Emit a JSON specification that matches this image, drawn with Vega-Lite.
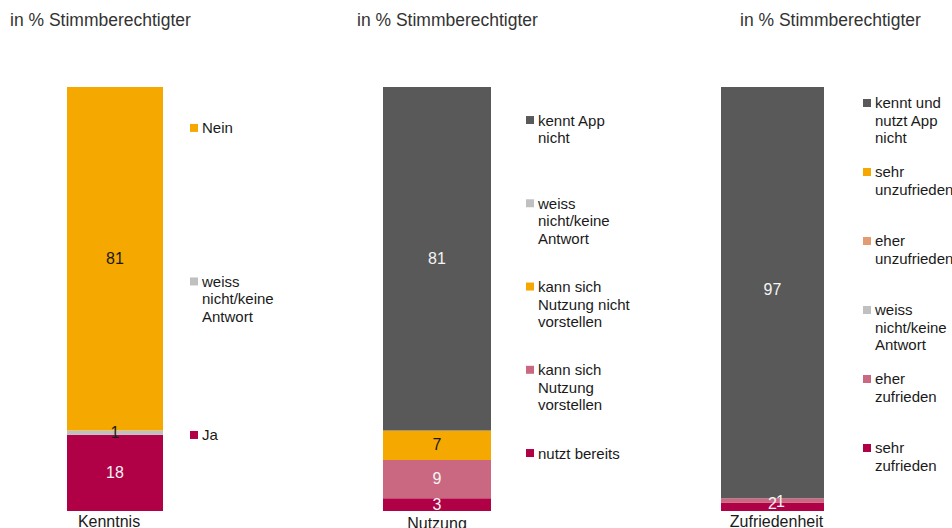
{
  "$schema": "https://vega.github.io/schema/vega-lite/v6.json",
  "padding": {"left": 10, "top": 11, "right": 0, "bottom": 0},
  "config": {"view": {"stroke": null}, "font": "Liberation Sans"},
  "spacing": 0,
  "bounds": "flush",
  "resolve": {"scale": {"x": "independent", "y": "independent"}},
  "datasets": {
    "kenntnis": [
      {"q": "Kenntnis", "cat": "Ja", "lab": "Ja", "rank": 1, "value": 18},
      {"q": "Kenntnis", "cat": "weiss nicht/keine Antwort", "lab": "weiss\nnicht/keine\nAntwort", "rank": 2, "value": 1},
      {"q": "Kenntnis", "cat": "Nein", "lab": "Nein", "rank": 3, "value": 81}
    ],
    "nutzung": [
      {"q": "Nutzung", "cat": "nutzt bereits", "lab": "nutzt bereits", "rank": 1, "value": 3},
      {"q": "Nutzung", "cat": "kann sich Nutzung vorstellen", "lab": "kann sich\nNutzung\nvorstellen", "rank": 2, "value": 9},
      {"q": "Nutzung", "cat": "kann sich Nutzung nicht vorstellen", "lab": "kann sich\nNutzung nicht\nvorstellen", "rank": 3, "value": 7},
      {"q": "Nutzung", "cat": "weiss nicht/keine Antwort", "lab": "weiss\nnicht/keine\nAntwort", "rank": 4, "value": 0},
      {"q": "Nutzung", "cat": "kennt App nicht", "lab": "kennt App\nnicht", "rank": 5, "value": 81}
    ],
    "zufriedenheit": [
      {"q": "Zufriedenheit", "cat": "sehr zufrieden", "lab": "sehr\nzufrieden", "rank": 1, "value": 2},
      {"q": "Zufriedenheit", "cat": "eher zufrieden", "lab": "eher\nzufrieden", "rank": 2, "value": 1},
      {"q": "Zufriedenheit", "cat": "weiss nicht/keine Antwort", "lab": "weiss\nnicht/keine\nAntwort", "rank": 3, "value": 0},
      {"q": "Zufriedenheit", "cat": "eher unzufrieden", "lab": "eher\nunzufrieden", "rank": 4, "value": 0},
      {"q": "Zufriedenheit", "cat": "sehr unzufrieden", "lab": "sehr\nunzufrieden", "rank": 5, "value": 0},
      {"q": "Zufriedenheit", "cat": "kennt und nutzt App nicht", "lab": "kennt und\nnutzt App\nnicht", "rank": 6, "value": 97}
    ]
  },
  "hconcat": [
    {
      "width": 96, "height": 424,
      "data": {"name": "kenntnis"},
      "title": {"text": "in % Stimmberechtigter", "anchor": "start", "frame": "group", "dx": -57, "offset": 58, "fontSize": 17.5, "fontWeight": "normal", "color": "#333333", "font": "Liberation Sans"},
      "encoding": {
        "x": {"field": "q", "type": "nominal", "scale": {"paddingInner": 0, "paddingOuter": 0}, "axis": {"title": null, "domain": false, "ticks": false, "tickSize": 0, "labelAngle": 0, "labelFontSize": 16, "labelPadding": 2, "labelColor": "#1a1a1a", "labelOffset": -6}},
        "order": {"field": "rank", "type": "quantitative"}
      },
      "layer": [
        {
          "mark": {"type": "bar"},
          "encoding": {
            "y": {"field": "value", "type": "quantitative", "stack": "zero", "scale": {"domain": [0, 100], "nice": false}, "axis": null},
            "color": {"field": "cat", "type": "nominal", "legend": null, "scale": {"domain": ["Ja", "nutzt bereits", "sehr zufrieden", "kann sich Nutzung vorstellen", "eher zufrieden", "weiss nicht/keine Antwort", "Nein", "kann sich Nutzung nicht vorstellen", "sehr unzufrieden", "eher unzufrieden", "kennt App nicht", "kennt und nutzt App nicht"], "range": ["#B00046", "#B00046", "#B00046", "#C96880", "#C96880", "#C0C0C0", "#F5A800", "#F5A800", "#F5A800", "#E39C72", "#595959", "#595959"]}}
          }
        },
        {
          "transform": [{"filter": "datum.value > 0"}],
          "mark": {"type": "text", "fontSize": 16, "baseline": "middle"},
          "encoding": {
            "y": {"field": "value", "type": "quantitative", "stack": "zero", "bandPosition": 0.5, "scale": {"domain": [0, 100], "nice": false}, "axis": null},
            "text": {"field": "value", "type": "quantitative"},
            "color": {"condition": {"test": "indexof(['Nein', 'weiss nicht/keine Antwort', 'kann sich Nutzung nicht vorstellen'], datum.cat) >= 0", "value": "#1a1a1a"}, "value": "#f4f4f4"}
          }
        }
      ]
    },
    {
      "width": 62, "height": 424,
      "data": {"name": "kenntnis"},
      "encoding": {
        "y": {"field": "cat", "type": "nominal", "sort": {"field": "rank", "op": "min", "order": "descending"}, "scale": {"type": "point", "padding": 0.381, "align": 0.35}, "axis": null}
      },
      "layer": [
        {
          "mark": {"type": "point", "shape": "square", "filled": true, "size": 64, "opacity": 1},
          "encoding": {
            "color": {"field": "cat", "type": "nominal", "legend": null, "scale": {"domain": ["Ja", "nutzt bereits", "sehr zufrieden", "kann sich Nutzung vorstellen", "eher zufrieden", "weiss nicht/keine Antwort", "Nein", "kann sich Nutzung nicht vorstellen", "sehr unzufrieden", "eher unzufrieden", "kennt App nicht", "kennt und nutzt App nicht"], "range": ["#B00046", "#B00046", "#B00046", "#C96880", "#C96880", "#C0C0C0", "#F5A800", "#F5A800", "#F5A800", "#E39C72", "#595959", "#595959"]}}
          }
        },
        {
          "mark": {"type": "text", "align": "left", "dx": 8, "dy": 5.5, "baseline": "alphabetic", "fontSize": 15, "lineHeight": 17.5, "lineBreak": "\n", "color": "#1a1a1a"},
          "encoding": {"text": {"field": "lab", "type": "nominal"}}
        }
      ]
    },
    {
      "width": 266, "height": 424,
      "data": {"name": "nutzung"},
      "title": {"text": "in % Stimmberechtigter", "anchor": "start", "frame": "group", "dx": 132, "offset": 58, "fontSize": 17.5, "fontWeight": "normal", "color": "#333333", "font": "Liberation Sans"},
      "encoding": {
        "x": {"field": "q", "type": "nominal", "scale": {"paddingInner": 0, "paddingOuter": 0.7315, "align": 1}, "axis": {"title": null, "domain": false, "ticks": false, "tickSize": 0, "labelAngle": 0, "labelFontSize": 16, "labelPadding": 4, "labelColor": "#1a1a1a"}},
        "order": {"field": "rank", "type": "quantitative"}
      },
      "layer": [
        {
          "mark": {"type": "bar"},
          "encoding": {
            "y": {"field": "value", "type": "quantitative", "stack": "zero", "scale": {"domain": [0, 100], "nice": false}, "axis": null},
            "color": {"field": "cat", "type": "nominal", "legend": null, "scale": {"domain": ["Ja", "nutzt bereits", "sehr zufrieden", "kann sich Nutzung vorstellen", "eher zufrieden", "weiss nicht/keine Antwort", "Nein", "kann sich Nutzung nicht vorstellen", "sehr unzufrieden", "eher unzufrieden", "kennt App nicht", "kennt und nutzt App nicht"], "range": ["#B00046", "#B00046", "#B00046", "#C96880", "#C96880", "#C0C0C0", "#F5A800", "#F5A800", "#F5A800", "#E39C72", "#595959", "#595959"]}}
          }
        },
        {
          "transform": [{"filter": "datum.value > 0"}],
          "mark": {"type": "text", "fontSize": 16, "baseline": "middle"},
          "encoding": {
            "y": {"field": "value", "type": "quantitative", "stack": "zero", "bandPosition": 0.5, "scale": {"domain": [0, 100], "nice": false}, "axis": null},
            "text": {"field": "value", "type": "quantitative"},
            "color": {"condition": {"test": "indexof(['Nein', 'weiss nicht/keine Antwort', 'kann sich Nutzung nicht vorstellen'], datum.cat) >= 0", "value": "#1a1a1a"}, "value": "#f4f4f4"}
          }
        }
      ]
    },
    {
      "width": 78, "height": 424,
      "data": {"name": "nutzung"},
      "encoding": {
        "y": {"field": "cat", "type": "nominal", "sort": {"field": "rank", "op": "min", "order": "descending"}, "scale": {"type": "point", "padding": 0.5465, "align": 0.363}, "axis": null}
      },
      "layer": [
        {
          "mark": {"type": "point", "shape": "square", "filled": true, "size": 64, "opacity": 1},
          "encoding": {
            "color": {"field": "cat", "type": "nominal", "legend": null, "scale": {"domain": ["Ja", "nutzt bereits", "sehr zufrieden", "kann sich Nutzung vorstellen", "eher zufrieden", "weiss nicht/keine Antwort", "Nein", "kann sich Nutzung nicht vorstellen", "sehr unzufrieden", "eher unzufrieden", "kennt App nicht", "kennt und nutzt App nicht"], "range": ["#B00046", "#B00046", "#B00046", "#C96880", "#C96880", "#C0C0C0", "#F5A800", "#F5A800", "#F5A800", "#E39C72", "#595959", "#595959"]}}
          }
        },
        {
          "mark": {"type": "text", "align": "left", "dx": 8, "dy": 5.5, "baseline": "alphabetic", "fontSize": 15, "lineHeight": 17.5, "lineBreak": "\n", "color": "#1a1a1a"},
          "encoding": {"text": {"field": "lab", "type": "nominal"}}
        }
      ]
    },
    {
      "width": 255, "height": 424,
      "data": {"name": "zufriedenheit"},
      "title": {"text": "in % Stimmberechtigter", "anchor": "start", "frame": "group", "dx": 171, "offset": 58, "fontSize": 17.5, "fontWeight": "normal", "color": "#333333", "font": "Liberation Sans"},
      "encoding": {
        "x": {"field": "q", "type": "nominal", "scale": {"paddingInner": 0, "paddingOuter": 0.7379, "align": 1}, "axis": {"title": null, "domain": false, "ticks": false, "tickSize": 0, "labelAngle": 0, "labelFontSize": 16, "labelPadding": 2, "labelColor": "#1a1a1a", "labelOffset": 4}},
        "order": {"field": "rank", "type": "quantitative"}
      },
      "layer": [
        {
          "mark": {"type": "bar"},
          "encoding": {
            "y": {"field": "value", "type": "quantitative", "stack": "zero", "scale": {"domain": [0, 100], "nice": false}, "axis": null},
            "color": {"field": "cat", "type": "nominal", "legend": null, "scale": {"domain": ["Ja", "nutzt bereits", "sehr zufrieden", "kann sich Nutzung vorstellen", "eher zufrieden", "weiss nicht/keine Antwort", "Nein", "kann sich Nutzung nicht vorstellen", "sehr unzufrieden", "eher unzufrieden", "kennt App nicht", "kennt und nutzt App nicht"], "range": ["#B00046", "#B00046", "#B00046", "#C96880", "#C96880", "#C0C0C0", "#F5A800", "#F5A800", "#F5A800", "#E39C72", "#595959", "#595959"]}}
          }
        },
        {
          "transform": [{"filter": "datum.value > 0"}],
          "mark": {"type": "text", "fontSize": 16, "baseline": "middle", "dy": -2.5},
          "encoding": {
            "y": {"field": "value", "type": "quantitative", "stack": "zero", "bandPosition": 0.5, "scale": {"domain": [0, 100], "nice": false}, "axis": null},
            "text": {"field": "value", "type": "quantitative"},
            "opacity": {"condition": {"test": "datum.cat == 'eher zufrieden'", "value": 0}, "value": 1},
            "color": {"value": "#f4f4f4"}
          }
        },
        {
          "transform": [{"filter": "datum.value > 0"}],
          "mark": {"type": "text", "fontSize": 16, "baseline": "middle", "dx": 8, "dy": 2},
          "encoding": {
            "y": {"field": "value", "type": "quantitative", "stack": "zero", "bandPosition": 0.5, "scale": {"domain": [0, 100], "nice": false}, "axis": null},
            "text": {"field": "value", "type": "quantitative"},
            "opacity": {"condition": {"test": "datum.cat == 'eher zufrieden'", "value": 1}, "value": 0},
            "color": {"value": "#f4f4f4"}
          }
        }
      ]
    },
    {
      "width": 86, "height": 424,
      "data": {"name": "zufriedenheit"},
      "encoding": {
        "y": {"field": "cat", "type": "nominal", "sort": {"field": "rank", "op": "min", "order": "descending"}, "scale": {"type": "point", "padding": 0.5725, "align": 0.2025}, "axis": null}
      },
      "layer": [
        {
          "mark": {"type": "point", "shape": "square", "filled": true, "size": 64, "opacity": 1},
          "encoding": {
            "color": {"field": "cat", "type": "nominal", "legend": null, "scale": {"domain": ["Ja", "nutzt bereits", "sehr zufrieden", "kann sich Nutzung vorstellen", "eher zufrieden", "weiss nicht/keine Antwort", "Nein", "kann sich Nutzung nicht vorstellen", "sehr unzufrieden", "eher unzufrieden", "kennt App nicht", "kennt und nutzt App nicht"], "range": ["#B00046", "#B00046", "#B00046", "#C96880", "#C96880", "#C0C0C0", "#F5A800", "#F5A800", "#F5A800", "#E39C72", "#595959", "#595959"]}}
          }
        },
        {
          "mark": {"type": "text", "align": "left", "dx": 8, "dy": 5.5, "baseline": "alphabetic", "fontSize": 15, "lineHeight": 17.5, "lineBreak": "\n", "color": "#1a1a1a"},
          "encoding": {"text": {"field": "lab", "type": "nominal"}}
        }
      ]
    }
  ]
}
